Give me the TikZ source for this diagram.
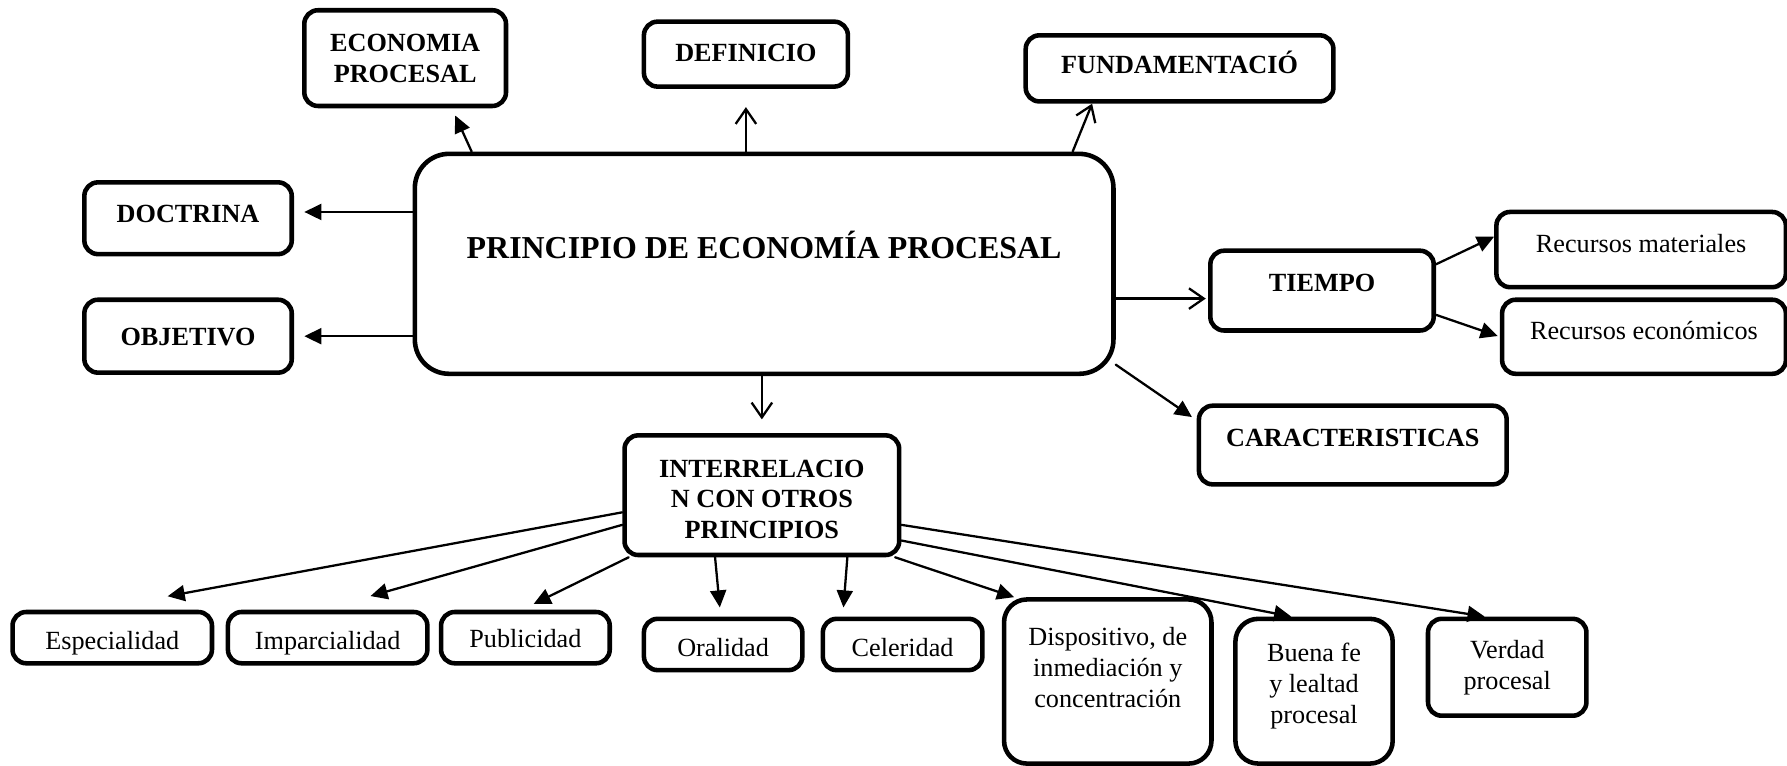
\documentclass[tikz,border=0pt]{standalone}
\usepackage{fontspec}
\setmainfont{Liberation Serif}
\usetikzlibrary{arrows.meta}

\begin{document}
\begin{tikzpicture}[x=0.5pt, y=-0.5pt, line cap=round, line join=round,
    caja/.style={draw, line width=2pt, rounded corners=6pt, inner sep=0pt, align=center,
        font=\fontsize{11.5}{13.5}\selectfont\bfseries},
    cajita/.style={caja, font=\fontsize{11.5}{13.5}\selectfont},
    liftup/.style 2 args={text height=#1, text depth=#2},
    flecha/.style={line width=1pt, -{Triangle[length=7.5pt,width=7pt]}},
    abierta/.style={line width=1pt, -{Straight Barb[length=6.5pt,width=9pt]}}]

    \useasboundingbox (0,0) rectangle (1568,672);

    % centro
    \node[caja, minimum width=306.5pt, minimum height=96.5pt, rounded corners=15pt,
        font=\fontsize{14}{16}\selectfont\bfseries, liftup={10pt}{14.3pt}] (principio) at (670.5,231.5) {PRINCIPIO DE ECONOMÍA PROCESAL};

    % arriba y a la izquierda
    \node[caja, minimum width=88.5pt, minimum height=42pt, liftup={21.6pt}{0pt}] (econ) at (355.5,51) {ECONOMIA\\PROCESAL};
    \node[caja, minimum width=89.5pt, minimum height=28.5pt, liftup={8pt}{1.9pt}] (defin) at (654.5,47.5) {DEFINICIO};
    \node[caja, minimum width=135pt, minimum height=29pt, liftup={8pt}{3.4pt}] (fund) at (1035,60) {FUNDAMENTACIÓ};
    \node[caja, minimum width=91pt, minimum height=31.5pt, liftup={8pt}{3.9pt}] (doctrina) at (165,191.5) {DOCTRINA};
    \node[caja, minimum width=91pt, minimum height=32pt, liftup={8.6pt}{0pt}] (objetivo) at (165,295) {OBJETIVO};

    % derecha
    \node[caja, minimum width=98pt, minimum height=35pt, liftup={8pt}{7.4pt}] (tiempo) at (1160,255) {TIEMPO};
    \node[cajita, minimum width=127pt, minimum height=33pt, liftup={8pt}{5.2pt}] (recmat) at (1440,219) {Recursos materiales};
    \node[cajita, minimum width=124.5pt, minimum height=32.5pt, liftup={8pt}{5.7pt}] (receco) at (1442.5,295.5) {Recursos económicos};
    \node[caja, minimum width=135pt, minimum height=34.5pt, liftup={8pt}{6.9pt}] (caract) at (1187,390.5) {CARACTERISTICAS};

    % abajo
    \node[caja, minimum width=120.5pt, minimum height=52.5pt, liftup={38.1pt}{0pt}] (interrel) at (668.5,434.5) {INTERRELACIO\\N CON OTROS\\PRINCIPIOS};
    \node[cajita, minimum width=87.5pt, minimum height=22.5pt, liftup={10.3pt}{0pt}] (espec) at (98.5,559.5) {Especialidad};
    \node[cajita, minimum width=87.5pt, minimum height=22.5pt, liftup={10.3pt}{0pt}] (impar) at (287.5,559.5) {Imparcialidad};
    \node[cajita, minimum width=74pt, minimum height=22.5pt, liftup={8.3pt}{0pt}] (publ) at (461,559.5) {Publicidad};
    \node[cajita, minimum width=69.5pt, minimum height=22.5pt, liftup={10.3pt}{0pt}] (oral) at (634.5,565.5) {Oralidad};
    \node[cajita, minimum width=70pt, minimum height=22.5pt, liftup={10.3pt}{0pt}] (celer) at (792,565.5) {Celeridad};
    \node[cajita, minimum width=91pt, minimum height=72pt, rounded corners=10pt, liftup={22.8pt}{0pt}] (dispos) at (972,598) {Dispositivo, de\\inmediación y\\concentración};
    \node[cajita, minimum width=69pt, minimum height=63.5pt, rounded corners=10pt, liftup={28.3pt}{0pt}] (buena) at (1153,606.5) {Buena fe\\y lealtad\\procesal};
    \node[cajita, minimum width=69.5pt, minimum height=42.5pt, liftup={19.3pt}{0pt}] (verdad) at (1322.5,585.5) {Verdad\\procesal};

    \draw[flecha, shorten >=3.5pt] (principio.159.2) -- (econ.313.2);
    \draw[abierta, shorten >=8pt] (defin.south |- principio.north) -- (defin.south);
    \draw[abierta] (principio.20.1) -- (fund.202.5);
    \draw[flecha, shorten >=4.5pt] ([yshift=2.75pt]principio.west |- doctrina.east) -- ([yshift=2.75pt]doctrina.east);
    \draw[flecha, shorten >=4.5pt] (principio.west |- objetivo.east) -- (objetivo.east);
    \draw[abierta, shorten >=1pt] ([yshift=-3.5pt]principio.east |- tiempo.west) -- ([yshift=-3.5pt]tiempo.west);
    \draw[flecha] (tiempo.13) -- (recmat.175);
    \draw[flecha, shorten >=1pt] (tiempo.348) -- (receco.180);
    \draw[flecha, shorten >=2.5pt] (principio.344.2) -- (caract.171.7);
    \draw[abierta, shorten >=6pt] (principio.south -| interrel.north) -- (interrel.north);

    \draw[flecha, shorten >=32.5pt] (interrel.187.2) -- (espec.122.8);
    \draw[flecha, shorten >=22pt] (interrel.192.7) -- (impar.101.3);
    \draw[flecha, shorten >=5.7pt] (interrel.205.8) -- (publ.97.6);
    \draw[flecha, shorten >=4pt] (interrel.233.7) -- (oral.95.6);
    \draw[flecha, shorten >=4pt] (interrel.324.5) -- (celer.155.8);
    \draw[flecha] (interrel.335) -- (dispos.138.6);
    \draw[flecha] (interrel.342.7) -- (buena.107.2);
    \draw[flecha] (interrel.348.1) -- (verdad.114.6);

\end{tikzpicture}
\end{document}
